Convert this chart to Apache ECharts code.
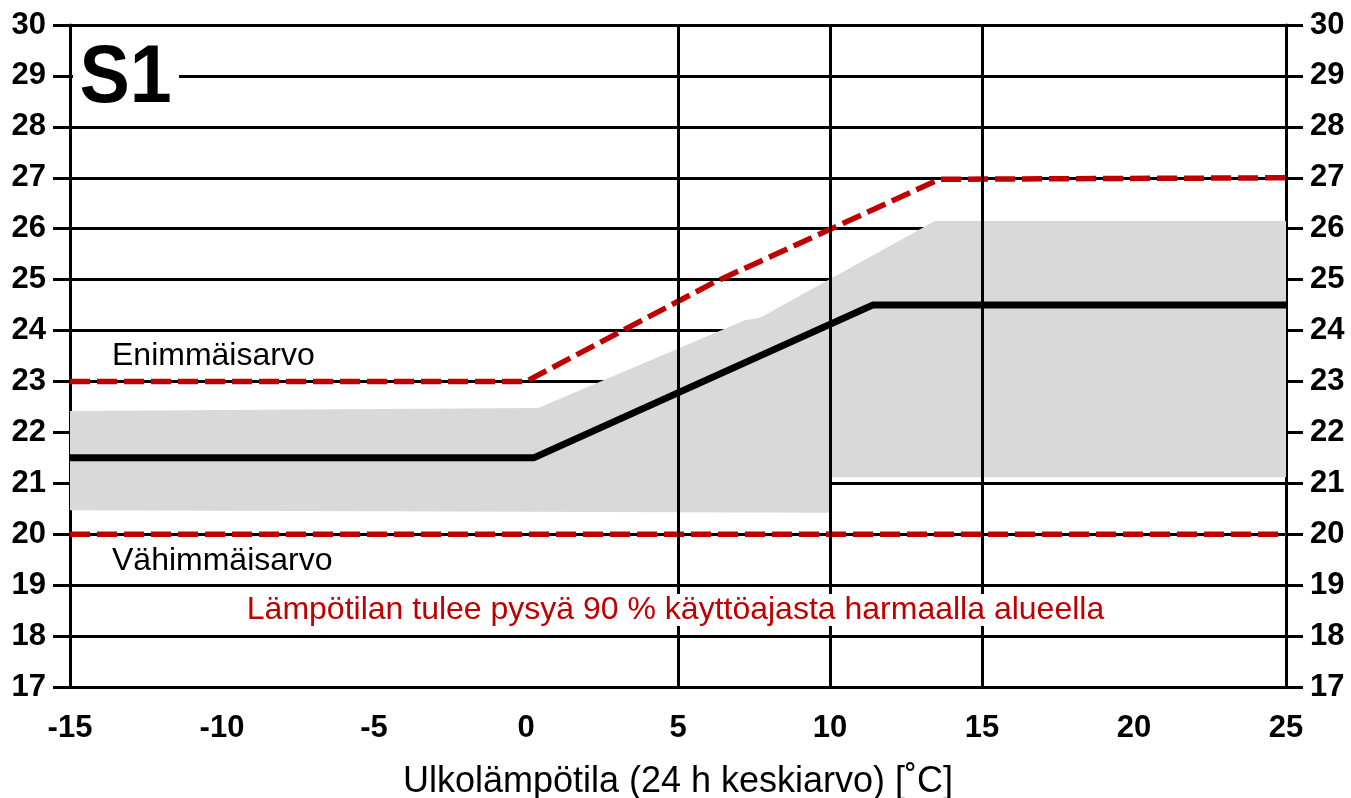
<!DOCTYPE html>
<html>
<head>
<meta charset="utf-8">
<title>S1</title>
<script src="https://cdn.jsdelivr.net/npm/echarts@6/dist/echarts.min.js"></script>
<style>
  html, body { margin: 0; padding: 0; background: #fff; }
  #chart { width: 1351px; height: 798px; }
</style>
</head>
<body>
<div id="chart"></div>
<script>
// harmaa alue (yläraja ja alaraja)
const bandTopX = [-15, 0.4, 7.2, 7.7, 13.45, 25]
const bandTopY = [22.42, 22.48, 24.2, 24.25, 26.15, 26.15]
const bandBottomX = [-15, 10.05, 10.05, 25]
const bandBottomY = [20.47, 20.42, 21.12, 21.12]
// tavoitearvo (musta viiva)
const targetX = [-15, 0.25, 11.4, 25]
const targetY = [21.5, 21.5, 24.5, 24.5]
// enimmäis- ja vähimmäisarvo (punaiset katkoviivat)
const maxX = [-15, 0, 6.2, 13.6, 25]
const maxY = [23, 23, 24.95, 26.97, 27]
const minX = [-15, 25]
const minY = [20, 20]
// pystysuorat apuviivat
const vGrid = [5, 10, 15]

const zip = (xs, ys) => xs.map((x, i) => [x, ys[i]])

const FONT = 'Liberation Sans, Arial, sans-serif'
const RED = '#c00000'

const chart = echarts.init(document.getElementById('chart'))

const yAxisBase = {
  type: 'value',
  min: 17,
  max: 30,
  interval: 1,
  axisLine: { show: true, onZero: false, lineStyle: { color: '#000', width: 3 } },
  axisTick: { show: true, inside: false, length: 17, lineStyle: { color: '#000', width: 3 } },
  axisLabel: { color: '#000', fontSize: 31, fontWeight: 'bold', fontFamily: FONT, margin: 24 },
  splitLine: { show: true, lineStyle: { color: '#000', width: 3 } }
}

const option = {
  animation: false,
  grid: { left: 70, right: 65, top: 25, bottom: 111, outerBoundsMode: 'none', containLabel: false },
  xAxis: {
    type: 'value',
    min: -15,
    max: 25,
    interval: 5,
    name: 'Ulkolämpötila (24 h keskiarvo) [˚C]',
    nameLocation: 'middle',
    nameGap: 77,
    nameTextStyle: { color: '#000', fontSize: 36, fontFamily: FONT },
    axisLine: { show: true, onZero: false, lineStyle: { color: '#000', width: 3 } },
    axisTick: { show: false },
    axisLabel: { color: '#000', fontSize: 31, fontWeight: 'bold', fontFamily: FONT, margin: 26 },
    splitLine: { show: false }
  },
  yAxis: [
    Object.assign({}, yAxisBase, { position: 'left' }),
    Object.assign({}, yAxisBase, { position: 'right', splitLine: { show: false } })
  ],
  graphic: [
    {
      type: 'text', left: 73, top: 38, z: 100, scaleX: 0.92,
      style: {
        text: 'S1', fontSize: 82, fontWeight: 'bold', fontFamily: FONT, fill: '#000',
        backgroundColor: '#fff', padding: [0, 8, 0, 7]
      }
    },
    {
      type: 'text', left: 112, top: 340, z: 100,
      style: { text: 'Enimmäisarvo', fontSize: 32, fontFamily: FONT, fill: '#000' }
    },
    {
      type: 'text', left: 112, top: 545, z: 100,
      style: { text: 'Vähimmäisarvo', fontSize: 32, fontFamily: FONT, fill: '#000' }
    },
    {
      type: 'text', left: 'center', top: 594, z: 100,
      style: {
        text: 'Lämpötilan tulee pysyä 90 % käyttöajasta harmaalla alueella',
        fontSize: 32, fontFamily: FONT, fill: RED, backgroundColor: '#fff', padding: [0, 4]
      }
    }
  ],
  series: [
    {
      // pystyviivat 5, 10 ja 15 kohdalla
      type: 'line',
      data: [],
      z: 1,
      silent: true,
      markLine: {
        symbol: 'none',
        silent: true,
        label: { show: false },
        lineStyle: { color: '#000', width: 3, type: 'solid' },
        data: vGrid.map(v => ({ xAxis: v }))
      }
    },
    {
      type: 'custom',
      z: 2,
      silent: true,
      data: [[-15, 20]],
      renderItem: (params, api) => {
        const pts = zip(bandTopX, bandTopY).concat(zip(bandBottomX, bandBottomY).reverse())
        return {
          type: 'polygon',
          shape: { points: pts.map(p => api.coord(p)) },
          style: { fill: '#d9d9d9' }
        }
      }
    },
    {
      type: 'line',
      z: 3,
      data: zip(targetX, targetY),
      symbol: 'none',
      lineStyle: { color: '#000', width: 7 }
    },
    {
      type: 'line',
      z: 4,
      data: zip(maxX, maxY),
      symbol: 'none',
      lineStyle: { color: RED, width: 5.5, type: [20, 7] }
    },
    {
      type: 'line',
      z: 4,
      data: zip(minX, minY),
      symbol: 'none',
      lineStyle: { color: RED, width: 5.5, type: [20, 7] }
    }
  ]
}

chart.setOption(option)
</script>
</body>
</html>
